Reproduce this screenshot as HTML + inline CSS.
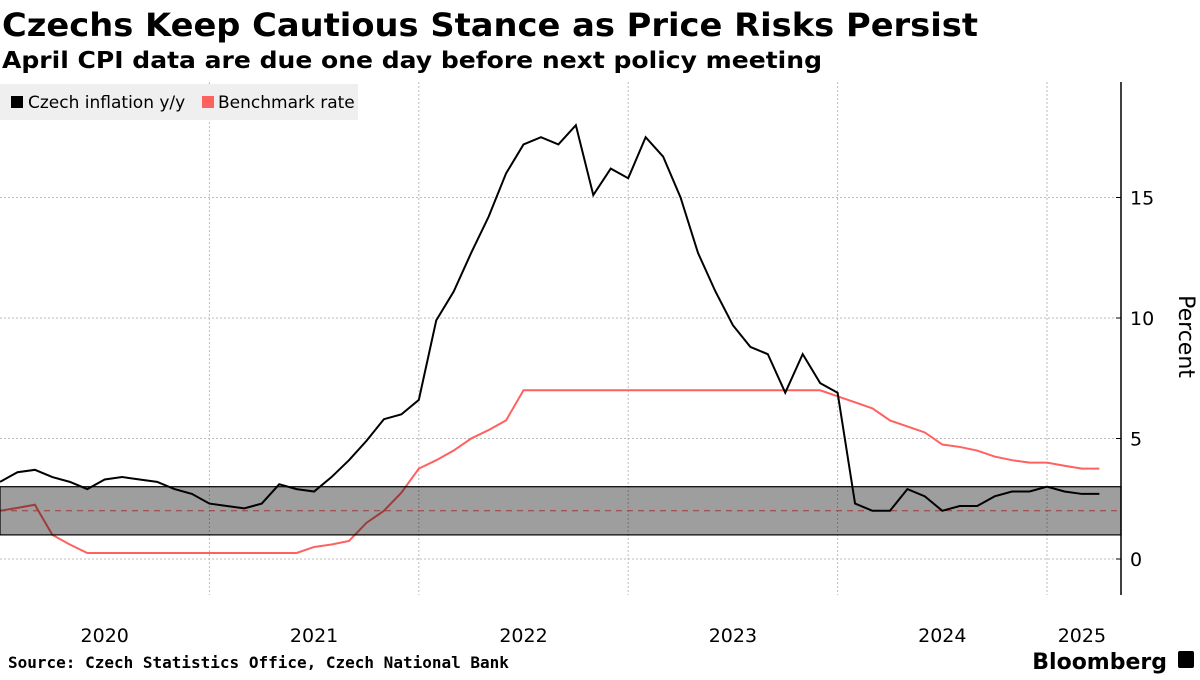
<!DOCTYPE html>
<html><head><meta charset="utf-8"><style>
body{margin:0;background:#fff;width:1200px;height:675px;overflow:hidden;font-family:"Liberation Sans","DejaVu Sans",sans-serif}
</style></head><body>
<svg id="c" width="1200" height="675" viewBox="0 0 1200 675" xmlns="http://www.w3.org/2000/svg">
<text x="2" y="36" font-size="32" font-weight="bold" font-family="DejaVu Sans, sans-serif" textLength="976" lengthAdjust="spacingAndGlyphs">Czechs Keep Cautious Stance as Price Risks Persist</text>
<text x="2" y="68" font-size="23" font-weight="bold" font-family="DejaVu Sans, sans-serif" textLength="820" lengthAdjust="spacingAndGlyphs">April CPI data are due one day before next policy meeting</text>
<g id="grid"></g>
<g id="series"></g>
<g id="axis"></g>
<g>
<rect x="0" y="84" width="358" height="36" fill="#efefef"/>
<rect x="11" y="96" width="12" height="12" fill="#000"/>
<text x="28" y="108" font-size="17" font-family="DejaVu Sans, sans-serif">Czech inflation y/y</text>
<rect x="202" y="96" width="12" height="12" fill="#ff6161"/>
<text x="218" y="108" font-size="17" font-family="DejaVu Sans, sans-serif">Benchmark rate</text>
</g>
<text x="8" y="668" font-size="16" font-weight="bold" font-family="DejaVu Sans Mono, monospace">Source: Czech Statistics Office, Czech National Bank</text>
<text x="1167" y="669" font-size="22" font-weight="bold" text-anchor="end" font-family="DejaVu Sans, sans-serif">Bloomberg</text>
<rect x="1178" y="651" width="16" height="17" rx="2" fill="#000"/>
</svg>
<script>
const inflation=[3.2,3.6,3.7,3.4,3.2,2.9,3.3,3.4,3.3,3.2,2.9,2.7,2.3,2.2,2.1,2.3,3.1,2.9,2.8,3.4,4.1,4.9,5.8,6.0,6.6,9.9,11.1,12.7,14.2,16.0,17.2,17.5,17.2,18.0,15.1,16.2,15.8,17.5,16.7,15.0,12.7,11.1,9.7,8.8,8.5,6.9,8.5,7.3,6.9,2.3,2.0,2.0,2.9,2.6,2.0,2.2,2.2,2.6,2.8,2.8,3.0,2.8,2.7,2.7];
const rate=[2.0,2.12,2.25,1.0,0.6,0.25,0.25,0.25,0.25,0.25,0.25,0.25,0.25,0.25,0.25,0.25,0.25,0.25,0.5,0.6,0.75,1.5,2.0,2.75,3.75,4.1,4.5,5.0,5.35,5.75,7.0,7.0,7.0,7.0,7.0,7.0,7.0,7.0,7.0,7.0,7.0,7.0,7.0,7.0,7.0,7.0,7.0,7.0,6.75,6.5,6.25,5.75,5.5,5.25,4.75,4.65,4.5,4.25,4.1,4.0,4.0,3.87,3.75,3.75];
const yTicks=[0,5,10,15];
const years=["2020","2021","2022","2023","2024","2025"];
const NS="http://www.w3.org/2000/svg";
const x=i=>i*17.45;
const y=v=>559-v*24.1;
const L=0,R=1121,T=82,B=595;
function el(t,a,p){const e=document.createElementNS(NS,t);for(const k in a)e.setAttribute(k,a[k]);document.getElementById(p).appendChild(e);return e;}
yTicks.forEach(v=>{
 const g=el('line',{x1:L,x2:R,y1:y(v),y2:y(v),stroke:'#bbb','stroke-dasharray':'2,2'},'grid');
 
 
 const tk=el('line',{x1:R-5,x2:R,y1:y(v),y2:y(v),stroke:'#000'},'axis');
 
 
 const t=el('text',{x:R+9,y:y(v)+7,'font-size':19,'font-family':'DejaVu Sans, sans-serif'},'axis');
 t.textContent=v;
 
 
});
years.forEach((yr,k)=>{
 if(k>0){const g=el('line',{x1:x(k*12),x2:x(k*12),y1:T,y2:B,stroke:'#bbb','stroke-dasharray':'2,2'},'grid');
 
 }
 const cx=k<5?x(k*12+6):x(k*12+2);
 const t=el('text',{x:cx,y:642,'font-size':19,'text-anchor':'middle','font-family':'DejaVu Sans, sans-serif'},'axis');
 t.textContent=yr;
 
 
});
const ax=el('line',{x1:R,x2:R,y1:T,y2:B,stroke:'#000','stroke-width':1.5},'axis');


const yt=el('text',{x:0,y:0,'font-size':22,'text-anchor':'middle','font-family':'DejaVu Sans, sans-serif',transform:`translate(1179,${(T+B)/2-2}) rotate(90)`},'axis');
yt.textContent='Percent';


const rl=el('polyline',{points:rate.map((v,i)=>x(i)+','+y(v)).join(' '),fill:'none',stroke:'#ff6161','stroke-width':2},'series');


const tl=el('line',{x1:L,x2:R,y1:y(2),y2:y(2),stroke:'#ff6161','stroke-dasharray':'6,5'},'series');


const band=el('rect',{x:L,y:y(3),width:R-L,height:y(1)-y(3),fill:'rgba(0,0,0,0.38)',stroke:'#000','stroke-width':1.2},'series');


const il=el('polyline',{points:inflation.map((v,i)=>x(i)+','+y(v)).join(' '),fill:'none',stroke:'#000','stroke-width':2},'series');


</script>
</body></html>
